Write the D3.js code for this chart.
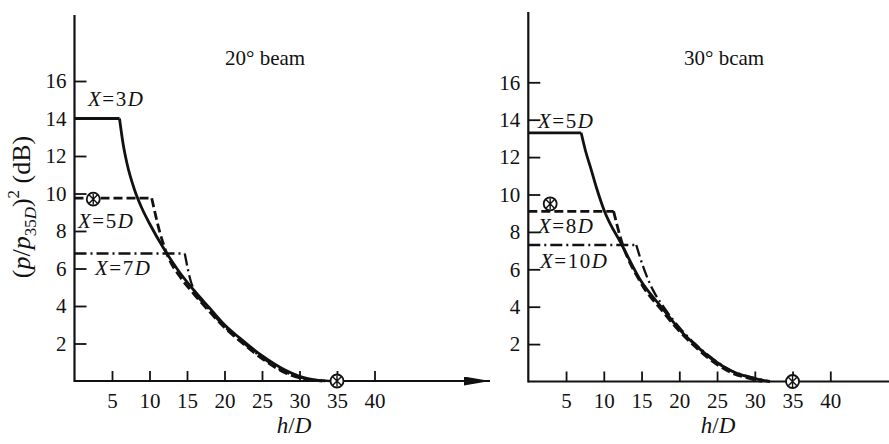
<!DOCTYPE html>
<html>
<head>
<meta charset="utf-8">
<script src="https://cdn.jsdelivr.net/npm/d3@7"></script>
<style>
  body { margin: 0; background: #fff; }
  svg { display: block; }
  text { font-family: "Liberation Serif", "Tinos", "Times New Roman", "DejaVu Serif", serif; fill: #111; }
</style>
</head>
<body>
<svg id="chart" width="889" height="444"></svg>
<script>
// h/D positions and levels (dB)
const xTicks = [5, 10, 15, 20, 25, 30, 35, 40];
const yTicks = [2, 4, 6, 8, 10, 12, 14, 16];

// 20 deg beam
const left3D_h = [0, 6, 6.5, 7, 8, 9, 10, 12, 14, 16, 18, 20, 22, 25, 28, 30, 33];
const left3D_v = [14, 14, 12.6, 11.6, 10.2, 9.2, 8.4, 7.0, 5.8, 4.8, 3.9, 3.0, 2.3, 1.35, 0.6, 0.25, 0];
const left5D_h = [0, 10.3, 11.4, 12.5, 14, 16, 18, 20, 22, 25, 28, 30.5, 34];
const left5D_v = [9.75, 9.75, 7.9, 6.6, 5.6, 4.6, 3.7, 2.85, 2.15, 1.2, 0.45, 0.12, 0];
const left7D_h = [0, 14.7, 15.6, 18, 20, 22, 25, 28, 30.5, 34];
const left7D_v = [6.8, 6.8, 5.2, 3.8, 2.9, 2.2, 1.25, 0.5, 0.15, 0];
const leftMarks_h = [2.5, 35];
const leftMarks_v = [9.7, 0];

// 30 deg beam
const right5D_h = [0, 7, 7.6, 8.2, 9, 10, 12.4, 14.8, 17.9, 20.1, 22, 24.5, 27, 28.9, 32];
const right5D_v = [13.3, 13.3, 12.3, 11.5, 10.4, 9.2, 7.3, 5.45, 3.85, 2.75, 2.0, 1.15, 0.55, 0.27, 0];
const right8D_h = [0, 11.3, 12.2, 14.8, 17.9, 20.1, 22, 24.5, 27, 28.9, 31];
const right8D_v = [9.1, 9.1, 7.7, 5.35, 3.7, 2.65, 1.9, 1.05, 0.45, 0.2, 0];
const right10D_h = [0, 14.3, 15.2, 16.5, 17.9, 20.1, 22, 24.5, 27, 28.9, 32];
const right10D_v = [7.3, 7.3, 6.15, 4.9, 4.0, 2.85, 2.05, 1.2, 0.55, 0.3, 0];
const rightMarks_h = [2.9, 35];
const rightMarks_v = [9.5, 0];

const zip = (h, v) => h.map((d, i) => [d, v[i]]);

const svg = d3.select("#chart");

svg.append("defs").append("marker")
  .attr("id", "arrow")
  .attr("viewBox", "0 0 26 9")
  .attr("refX", 26).attr("refY", 4.5)
  .attr("markerWidth", 26).attr("markerHeight", 9)
  .attr("markerUnits", "userSpaceOnUse")
  .attr("orient", "auto")
  .append("path")
  .attr("d", "M0,0 L26,4.5 L0,9 Z")
  .attr("fill", "#111");

const styles = {
  solid: null,
  dashed: "9,4",
  dashdot: "12,4,2,4"
};

function drawPanel(p) {
  const x = d3.scaleLinear().domain([0, 40]).range([p.x0, p.x0 + 40 * p.kx]);
  const y = d3.scaleLinear().domain([0, 16]).range([p.y0, p.y0 - 16 * p.ky]);

  const g = svg.append("g");

  // axis lines
  g.append("line")
    .attr("x1", x(0)).attr("x2", x(0))
    .attr("y1", p.y0 + 1).attr("y2", p.yTop)
    .attr("stroke", "#111").attr("stroke-width", 2.2);
  const xl = g.append("line")
    .attr("x1", x(0)).attr("x2", p.xEnd)
    .attr("y1", p.y0).attr("y2", p.y0)
    .attr("stroke", "#111").attr("stroke-width", 2.2);
  if (p.arrow) xl.attr("marker-end", "url(#arrow)");

  const yAxis = d3.axisLeft(y).tickValues(yTicks).tickSize(-12).tickPadding(8);
  const ya = g.append("g").attr("transform", `translate(${x(0)},0)`).call(yAxis);
  const xAxis = d3.axisBottom(x).tickValues(xTicks).tickSize(-10).tickPadding(12);
  const xa = g.append("g").attr("transform", `translate(0,${p.y0})`).call(xAxis);
  [ya, xa].forEach(a => {
    a.select(".domain").remove();
    a.attr("font-family", null).attr("font-size", null);
    a.selectAll("line").attr("stroke", "#111").attr("stroke-width", 1.8);
    a.selectAll("text").attr("font-size", 21).attr("fill", "#111");
  });

  const flat = d3.line().x(d => x(d[0])).y(d => y(d[1]));
  const smooth = d3.line().x(d => x(d[0])).y(d => y(d[1])).curve(d3.curveMonotoneX);

  p.series.forEach(s => {
    const pts = zip(s.h, s.v);
    g.append("path")
      .attr("d", flat(pts.slice(0, 2)) + smooth(pts.slice(1)))
      .attr("fill", "none")
      .attr("stroke", "#111")
      .attr("stroke-width", s.w)
      .attr("stroke-dasharray", styles[s.style]);
  });

  // circled-cross markers
  const marks = g.selectAll("g.mark")
    .data(zip(p.marks_h, p.marks_v))
    .join("g")
    .attr("class", "mark")
    .attr("transform", d => `translate(${x(d[0])},${y(d[1])})`);
  marks.append("circle").attr("r", 6.5)
    .attr("fill", "#fff").attr("stroke", "#111").attr("stroke-width", 1.8);
  marks.append("path").attr("d", "M-4.3,-4.3L4.3,4.3M-4.3,4.3L4.3,-4.3M0,-5.5L0,5.5")
    .attr("stroke", "#111").attr("stroke-width", 1.4);

  // curve labels
  p.labels.forEach(l => {
    const t = g.append("text")
      .attr("x", l.x).attr("y", l.y)
      .attr("font-size", 21)
      .attr("letter-spacing", 1.5);
    t.append("tspan").attr("font-style", "italic").text("X");
    t.append("tspan").text("=" + l.n);
    t.append("tspan").attr("font-style", "italic").text("D");
  });

  // panel title
  g.append("text")
    .attr("x", p.titleX).attr("y", 65)
    .attr("font-size", 21)
    .text(p.title);

  // x axis title
  const xt = g.append("text")
    .attr("x", p.hdX).attr("y", 433)
    .attr("text-anchor", "middle")
    .attr("font-size", 23);
  xt.append("tspan").attr("font-style", "italic").text("h");
  xt.append("tspan").text("/");
  xt.append("tspan").attr("font-style", "italic").text("D");
}

drawPanel({
  x0: 74.5, kx: 7.5, y0: 381, ky: 18.75, yTop: 15, xEnd: 490, arrow: true,
  series: [
    { h: left3D_h, v: left3D_v, style: "solid", w: 2.8 },
    { h: left5D_h, v: left5D_v, style: "dashed", w: 2.8 },
    { h: left7D_h, v: left7D_v, style: "dashdot", w: 2.3 }
  ],
  marks_h: leftMarks_h, marks_v: leftMarks_v,
  labels: [
    { x: 88, y: 106, n: "3" },
    { x: 78, y: 228, n: "5" },
    { x: 95, y: 275, n: "7" }
  ],
  title: "20° beam", titleX: 225, hdX: 294
});

drawPanel({
  x0: 528.3, kx: 7.55, y0: 381.5, ky: 18.7, yTop: 12, xEnd: 889, arrow: false,
  series: [
    { h: right5D_h, v: right5D_v, style: "solid", w: 2.8 },
    { h: right8D_h, v: right8D_v, style: "dashed", w: 2.8 },
    { h: right10D_h, v: right10D_v, style: "dashdot", w: 2.3 }
  ],
  marks_h: rightMarks_h, marks_v: rightMarks_v,
  labels: [
    { x: 538, y: 128, n: "5" },
    { x: 538, y: 233, n: "8" },
    { x: 540, y: 268, n: "10" }
  ],
  title: "30° bcam", titleX: 684, hdX: 718
});

// y axis title, shared by the left panel
const yt = svg.append("text")
  .attr("transform", "translate(30,207) rotate(-90)")
  .attr("text-anchor", "middle")
  .attr("font-size", 26);
yt.append("tspan").text("(");
yt.append("tspan").attr("font-style", "italic").text("p");
yt.append("tspan").text("/");
yt.append("tspan").attr("font-style", "italic").text("p");
yt.append("tspan").attr("font-size", 17).attr("dy", 6).text("35");
yt.append("tspan").attr("font-size", 17).attr("font-style", "italic").text("D");
yt.append("tspan").attr("dy", -6).text(")");
yt.append("tspan").attr("font-size", 17).attr("dy", -11).text("2");
yt.append("tspan").attr("dy", 11).text(" (dB)");
</script>
</body>
</html>
